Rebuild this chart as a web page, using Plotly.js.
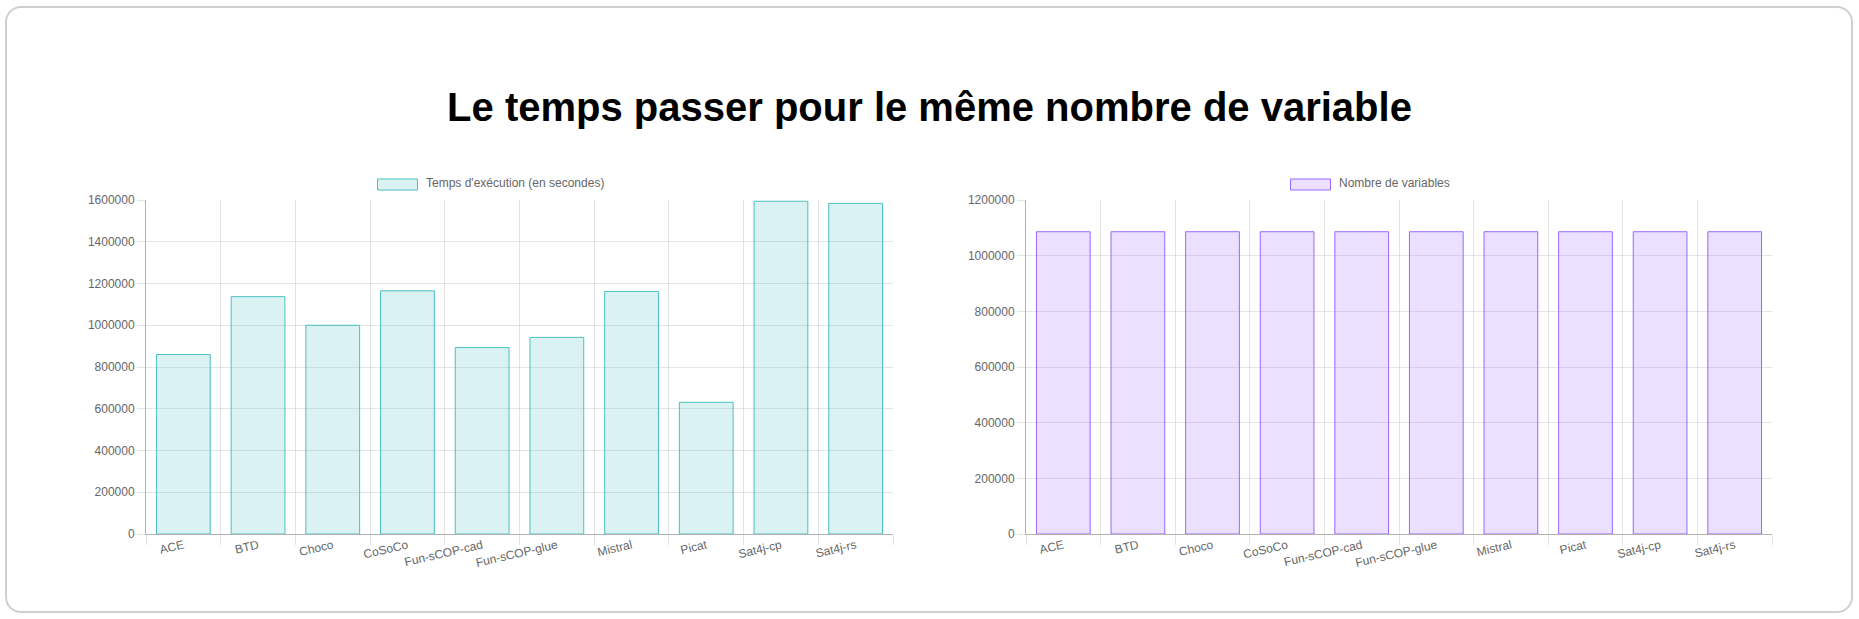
<!DOCTYPE html>
<html>
<head>
<meta charset="utf-8">
<script src="https://cdn.plot.ly/plotly-3.0.1.min.js"></script>
<style>
  html, body { margin: 0; padding: 0; background: #ffffff; width: 1859px; height: 619px; overflow: hidden; }
  #card { position: absolute; left: 5px; top: 6px; width: 1844px; height: 603px; border: 2px solid #cfcfcf; border-radius: 16px; box-sizing: content-box; }
  #chart { position: absolute; left: 0; top: 0; width: 1859px; height: 619px; }
</style>
</head>
<body>
<div id="card"></div>
<div id="chart"></div>
<script>
// ---- data ----
const categories = ['ACE', 'BTD', 'Choco', 'CoSoCo', 'Fun-sCOP-cad', 'Fun-sCOP-glue', 'Mistral', 'Picat', 'Sat4j-cp', 'Sat4j-rs'];
const tempsExecution = [860000, 1137000, 1000000, 1165000, 893000, 942000, 1162000, 631000, 1594000, 1584000];
const nombreVariables = [1086000, 1086000, 1086000, 1086000, 1086000, 1086000, 1086000, 1086000, 1086000, 1086000];
const serieNames = ["Temps d'exécution (en secondes)", 'Nombre de variables'];
const chartTitle = 'Le temps passer pour le même nombre de variable';

// ---- layout helpers ----
const W = 1859, H = 619;
const px = v => v / W;
const py = v => 1 - v / H;
const FONT = '"Liberation Sans", Arial, Helvetica, sans-serif';
const tickFont = { family: FONT, size: 12, color: '#666666' };
const gridColor = 'rgba(0,0,0,0.1)';
const axisColor = 'rgba(0,0,0,0.3)';

const teal = 'rgb(75,192,192)', tealFill = 'rgba(75,192,192,0.2)';
const purple = 'rgb(153,102,255)', purpleFill = 'rgba(153,102,255,0.2)';

const traces = [
  { type: 'bar', x: categories, y: tempsExecution, name: serieNames[0], xaxis: 'x', yaxis: 'y',
    marker: { color: tealFill, line: { color: teal, width: 1 } }, showlegend: false, hoverinfo: 'x+y' },
  { type: 'bar', x: categories, y: nombreVariables, name: serieNames[1], xaxis: 'x2', yaxis: 'y2',
    marker: { color: purpleFill, line: { color: purple, width: 1 } }, showlegend: false, hoverinfo: 'x+y' }
];

function xAxis(domain, anchor) {
  return {
    domain: domain, anchor: anchor, type: 'category',
    tickson: 'boundaries', ticks: 'outside', ticklen: 10, tickcolor: gridColor, tickwidth: 1,
    showgrid: true, gridcolor: gridColor, gridwidth: 1,
    showline: true, linecolor: axisColor, linewidth: 1,
    tickangle: -13, tickfont: tickFont, ticklabelstandoff: -1,
    fixedrange: true, automargin: false
  };
}
function yAxis(domain, anchor, maxV) {
  return {
    domain: domain, anchor: anchor, range: [0, maxV], dtick: 200000, tick0: 0, tickformat: 'd',
    ticks: 'outside', ticklen: 8, tickcolor: gridColor, tickwidth: 1,
    showgrid: true, gridcolor: gridColor, gridwidth: 1, zeroline: false,
    showline: true, linecolor: axisColor, linewidth: 1,
    tickfont: tickFont, fixedrange: true, automargin: false
  };
}

const yDom = [py(534), py(200)];

const layout = {
  width: W, height: H,
  margin: { l: 0, r: 0, t: 0, b: 0, pad: 0 },
  paper_bgcolor: 'rgba(0,0,0,0)', plot_bgcolor: 'rgba(0,0,0,0)',
  showlegend: false,
  bargap: 0.28,
  title: {
    text: chartTitle, x: 0.5, xanchor: 'center', xref: 'paper',
    y: py(107), yanchor: 'middle', yref: 'container',
    font: { family: FONT, size: 40, color: '#000000', weight: 'bold' }
  },
  xaxis: xAxis([px(146), px(893)], 'y'),
  yaxis: yAxis(yDom, 'x', 1600000),
  xaxis2: xAxis([px(1026), px(1772)], 'y2'),
  yaxis2: yAxis(yDom, 'x2', 1200000),
  shapes: [
    { type: 'rect', xref: 'paper', yref: 'paper', x0: px(377.5), x1: px(417.5), y0: py(190), y1: py(179),
      fillcolor: tealFill, line: { color: teal, width: 1 } },
    { type: 'rect', xref: 'paper', yref: 'paper', x0: px(1290.5), x1: px(1330.5), y0: py(190), y1: py(179),
      fillcolor: purpleFill, line: { color: purple, width: 1 } }
  ],
  annotations: [
    { xref: 'paper', yref: 'paper', x: px(424), y: py(183.5), xanchor: 'left', yanchor: 'middle',
      text: serieNames[0], showarrow: false, font: tickFont },
    { xref: 'paper', yref: 'paper', x: px(1337), y: py(183.5), xanchor: 'left', yanchor: 'middle',
      text: serieNames[1], showarrow: false, font: tickFont }
  ]
};

Plotly.newPlot('chart', traces, layout, { displayModeBar: false, staticPlot: false, responsive: false });
</script>
</body>
</html>
